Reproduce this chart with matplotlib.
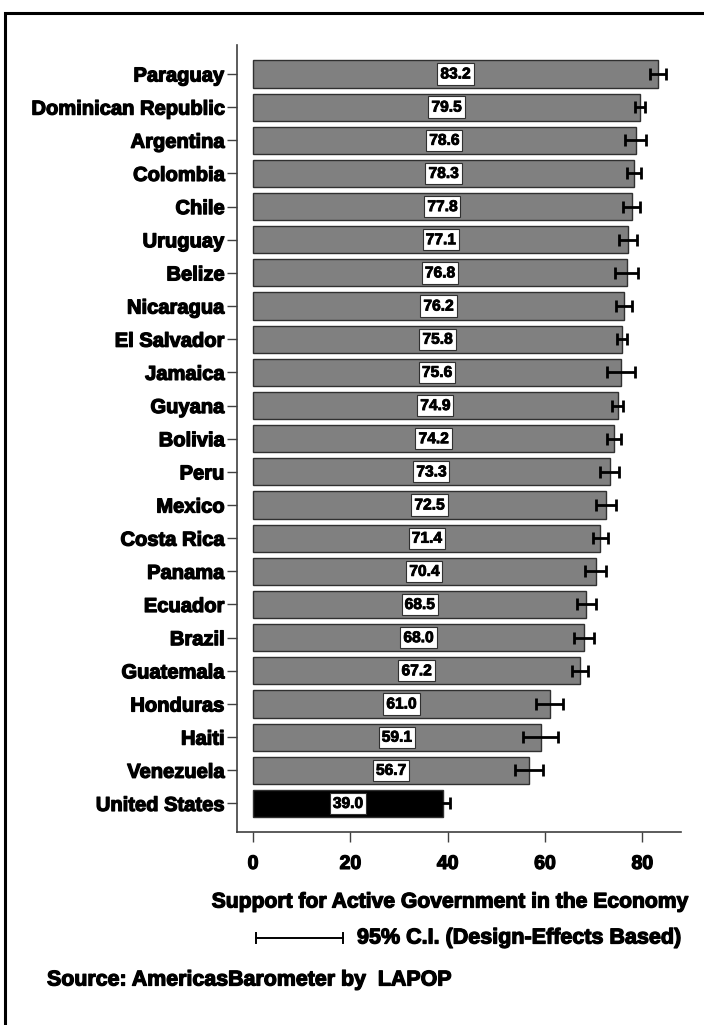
import matplotlib
matplotlib.use("Agg")
import matplotlib.pyplot as plt
import matplotlib.patheffects as pe
from matplotlib.patches import Rectangle
from matplotlib.lines import Line2D

plt.rcParams['font.family'] = ['Liberation Sans', 'DejaVu Sans']
plt.rcParams['font.weight'] = 'bold'

# ---- data ----
countries = ["Paraguay", "Dominican Republic", "Argentina", "Colombia", "Chile",
             "Uruguay", "Belize", "Nicaragua", "El Salvador", "Jamaica", "Guyana",
             "Bolivia", "Peru", "Mexico", "Costa Rica", "Panama", "Ecuador",
             "Brazil", "Guatemala", "Honduras", "Haiti", "Venezuela", "United States"]
means = [83.2, 79.5, 78.6, 78.3, 77.8, 77.1, 76.8, 76.2, 75.8, 75.6, 74.9,
         74.2, 73.3, 72.5, 71.4, 70.4, 68.5, 68.0, 67.2, 61.0, 59.1, 56.7, 39.0]
ci_half = [1.6, 1.1, 2.2, 1.4, 1.7, 1.8, 2.4, 1.7, 1.1, 2.9, 1.2,
           1.5, 1.9, 2.1, 1.6, 2.2, 2.0, 2.1, 1.7, 2.8, 3.6, 2.8, 1.4]
xticks = [0, 20, 40, 60, 80]

# thicken the bold glyphs a little
heavy = [pe.withStroke(linewidth=0.9, foreground="black")]
heavy_small = [pe.withStroke(linewidth=0.6, foreground="black")]

fig = plt.figure(figsize=(7.04, 10.25), dpi=100)

# frame around the whole graphic
fig.patches.append(Rectangle((0.0071, -0.05), 1.05, 1.037, transform=fig.transFigure,
                             fill=False, edgecolor="black", linewidth=2.2))

ax = fig.add_axes([0.3366, 0.188, 0.6304, 0.768])

ypos = list(range(len(countries)))
colors = ["#808080"] * (len(countries) - 1) + ["black"]
ax.barh(ypos, means, height=0.82, color=colors, edgecolor="#303030", linewidth=1.0)
ax.errorbar(means, ypos, xerr=ci_half, fmt="none", ecolor="black",
            elinewidth=2.0, capsize=4.5, capthick=2.0)

for y, m in zip(ypos, means):
    ax.text(m / 2, y, f"{m:.1f}", ha="center", va="center", fontsize=11.2,
            fontweight="bold", color="black", path_effects=heavy_small,
            bbox=dict(boxstyle="square,pad=0.2", facecolor="white",
                      edgecolor="#303030", linewidth=0.8))

ax.set_ylim(len(countries) - 1 + 0.87, -0.87)
ax.set_xlim(-3.3, 87.9)
ax.set_yticks(ypos)
ax.set_yticklabels(countries, fontsize=14.5, fontweight="bold")
ax.set_xticks(xticks)
ax.set_xticklabels([str(t) for t in xticks], fontsize=14, fontweight="bold")
for lab in ax.get_yticklabels() + ax.get_xticklabels():
    lab.set_path_effects(heavy)
ax.tick_params(axis="y", length=7, width=1, color="#404040", pad=2)
ax.tick_params(axis="x", length=7, width=1, color="#404040", pad=10)

for side in ["top", "right"]:
    ax.spines[side].set_visible(False)
for side in ["left", "bottom"]:
    ax.spines[side].set_color("#404040")
    ax.spines[side].set_linewidth(1.2)

# axis title and notes below the plot
fig.text(450 / 704, 1 - 902 / 1025, "Support for Active Government in the Economy",
         ha="center", va="center", fontsize=15.2, fontweight="bold", path_effects=heavy)

y_ci = 1 - 938 / 1025
x0, x1 = 256 / 704, 343 / 704
fig.lines.append(Line2D([x0, x1], [y_ci, y_ci], transform=fig.transFigure,
                        color="black", linewidth=1.4))
for xc in (x0, x1):
    fig.lines.append(Line2D([xc, xc], [y_ci - 0.005, y_ci + 0.005],
                            transform=fig.transFigure, color="black", linewidth=1.4))
fig.text(357 / 704, y_ci, "95% C.I. (Design-Effects Based)", ha="left", va="center",
         fontsize=15.5, fontweight="bold", path_effects=heavy)

fig.text(47 / 704, 1 - 980 / 1025, "Source: AmericasBarometer by  LAPOP",
         ha="left", va="center", fontsize=15.4, fontweight="bold", path_effects=heavy)

fig.savefig("out.png", dpi=100)
